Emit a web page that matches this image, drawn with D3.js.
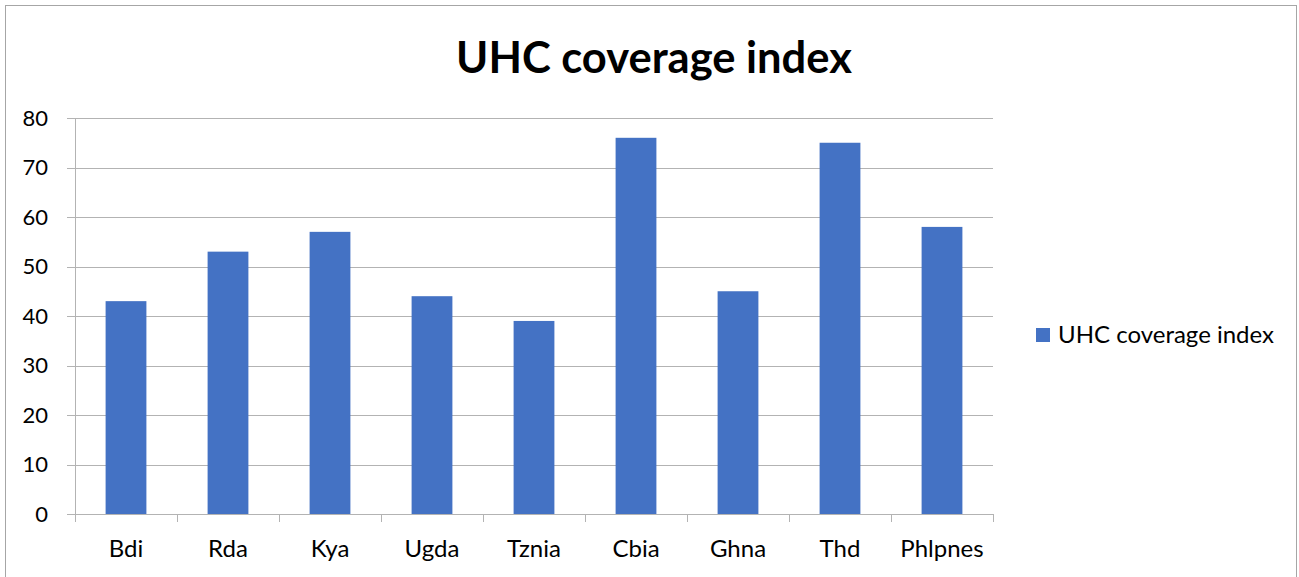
<!DOCTYPE html>
<html>
<head>
<meta charset="utf-8">
<script src="https://cdn.jsdelivr.net/npm/d3@7"></script>
<style>
  body { margin: 0; background: #fff; }
  text { font-family: Lato, "Open Sans", sans-serif; fill: #000; }
</style>
</head>
<body>
<div class="chart"></div>
<script>
var countries = ["Bdi", "Rda", "Kya", "Ugda", "Tznia", "Cbia", "Ghna", "Thd", "Phlpnes"];
var uhcIndex = [43, 53, 57, 44, 39, 76, 45, 75, 58];
var yTicks = [0, 10, 20, 30, 40, 50, 60, 70, 80];
var seriesName = "UHC coverage index";
var chartTitle = "UHC coverage index";

var svgWidth = 1299;
var svgHeight = 577;
var margin = { top: 118, right: 306, bottom: 63, left: 75 };
var width = svgWidth - margin.left - margin.right;
var height = svgHeight - margin.top - margin.bottom;

var svg = d3.select(".chart")
  .append("svg")
  .attr("width", svgWidth)
  .attr("height", svgHeight);

// chart border
svg.append("rect")
  .attr("x", 5.5).attr("y", 5.5)
  .attr("width", svgWidth - 8).attr("height", svgHeight)
  .attr("fill", "none")
  .attr("stroke", "#a6a6a6");

svg.append("text")
  .attr("x", 654).attr("y", 73)
  .attr("text-anchor", "middle")
  .attr("font-size", "43.5px")
  .attr("font-weight", "bold")
  .text(chartTitle);

var chart = svg.append("g")
  .attr("transform", "translate(" + margin.left + "," + margin.top + ")");

var xScale = d3.scaleBand().domain(countries).range([0, width]).paddingInner(0.6).paddingOuter(0.3);
var yScale = d3.scaleLinear().domain([0, 80]).range([height, 0]);

// gridlines
chart.selectAll(".grid")
  .data(yTicks)
  .enter().append("line")
  .attr("x1", -8).attr("x2", width)
  .attr("y1", function(d) { return Math.round(yScale(d)) + 0.5; })
  .attr("y2", function(d) { return Math.round(yScale(d)) + 0.5; })
  .attr("stroke", "#b3b3b3");

// y axis line
chart.append("line")
  .attr("x1", 0.5).attr("x2", 0.5)
  .attr("y1", 0).attr("y2", height)
  .attr("stroke", "#b3b3b3");

chart.selectAll(".ylab")
  .data(yTicks)
  .enter().append("text")
  .attr("x", -27)
  .attr("y", function(d) { return yScale(d); })
  .attr("dy", "0.35em")
  .attr("text-anchor", "end")
  .attr("font-size", "22px")
  .text(function(d) { return d; });

// bars
chart.selectAll(".bar")
  .data(uhcIndex)
  .enter().append("rect")
  .attr("x", function(d, i) { return xScale(countries[i]); })
  .attr("y", function(d) { return yScale(d); })
  .attr("width", xScale.bandwidth())
  .attr("height", function(d) { return height - yScale(d); })
  .attr("fill", "#4472c4");

// x axis category boundary ticks
var boundaries = d3.range(countries.length + 1);
chart.selectAll(".xtick")
  .data(boundaries)
  .enter().append("line")
  .attr("x1", function(d) { return Math.round(d * width / countries.length) + 0.5; })
  .attr("x2", function(d) { return Math.round(d * width / countries.length) + 0.5; })
  .attr("y1", height).attr("y2", height + 8)
  .attr("stroke", "#b3b3b3");

chart.selectAll(".xlab")
  .data(countries)
  .enter().append("text")
  .attr("x", function(d) { return xScale(d) + xScale.bandwidth() / 2; })
  .attr("y", height + 43)
  .attr("text-anchor", "middle")
  .attr("font-size", "24px")
  .text(function(d) { return d; });

// legend
var legend = svg.append("g").attr("transform", "translate(1036,328)");
legend.append("rect").attr("width", 14).attr("height", 14).attr("fill", "#4472c4");
legend.append("text").attr("x", 22).attr("y", 7).attr("dy", "0.35em")
  .attr("font-size", "24px").text(seriesName);
</script>
</body>
</html>
